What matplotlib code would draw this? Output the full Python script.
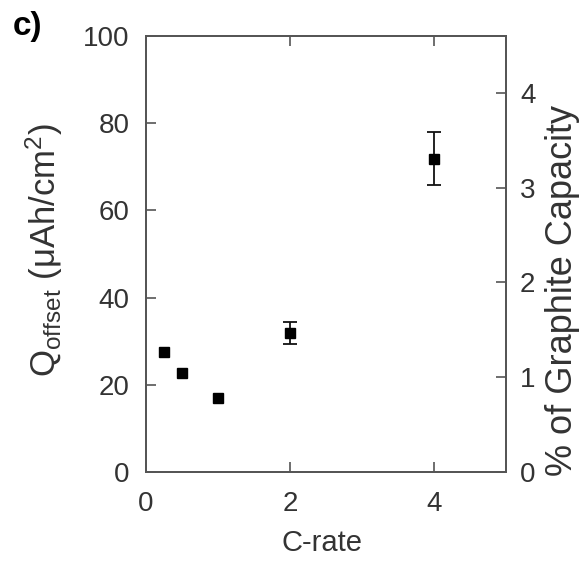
import matplotlib
matplotlib.use('Agg')
import matplotlib.pyplot as plt

# data
c_rate = [0.25, 0.5, 1, 2, 4]
q_offset = [27.6, 22.6, 16.9, 31.8, 71.9]
q_err = [0, 0, 0, 2.5, 6.0]

plt.rcParams['font.family'] = ['Liberation Sans', 'DejaVu Sans']
plt.rcParams['mathtext.default'] = 'regular'

txt = '#333333'
spine = '#555555'

fig = plt.figure(figsize=(5.81, 5.61), dpi=100)
ax = fig.add_axes([0.2513, 0.1586, 0.6196, 0.7772])

# error bars only where there is an error
idx = [i for i, e in enumerate(q_err) if e > 0]
ax.errorbar([c_rate[i] for i in idx], [q_offset[i] for i in idx],
            yerr=[q_err[i] for i in idx], fmt='none', ecolor='#111111',
            elinewidth=1.3, capsize=5, capthick=1.3)
ax.plot(c_rate, q_offset, 's', color='black', markersize=7.5)

ax.set_xlim(0, 5)
ax.set_ylim(0, 100)
ax.set_xticks([0, 2, 4])
ax.set_yticks([0, 20, 40, 60, 80, 100])
ax.tick_params(direction='in', length=7, width=1.2, color=spine, labelcolor=txt,
               labelsize=20, top=True)
ax.tick_params(axis='x', pad=14)
ax.tick_params(axis='y', pad=12)
ax.set_xlabel('C-rate', fontsize=21, color=txt)
ax.set_ylabel(r'Q$_{offset}$ (μAh/cm$^2$)', fontsize=25, color=txt)
ax.xaxis.set_label_coords(0.49, -0.163)
ax.yaxis.set_label_coords(-0.283, 0.51)
ax.xaxis.label.set_va('center')
ax.yaxis.label.set_va('center')

for s in ax.spines.values():
    s.set_color(spine)
    s.set_linewidth(1.3)

# right axis: % of graphite capacity
ax2 = ax.twinx()
ax2.set_ylim(0, 4.6)
ax2.set_yticks([0, 1, 2, 3, 4])
ax2.tick_params(direction='in', length=7, width=1.2, color=spine, labelcolor=txt,
                labelsize=20, pad=10)
ax2.set_ylabel('% of Graphite Capacity', fontsize=26, color=txt)
ax2.yaxis.set_label_coords(1.156, 0.417)
ax2.yaxis.label.set_va('center')
for s in ax2.spines.values():
    s.set_color(spine)
    s.set_linewidth(1.3)

fig.text(0.022, 0.98, 'c)', fontsize=24, fontweight='bold', color='black', va='top')

fig.savefig('out.png', dpi=100)
